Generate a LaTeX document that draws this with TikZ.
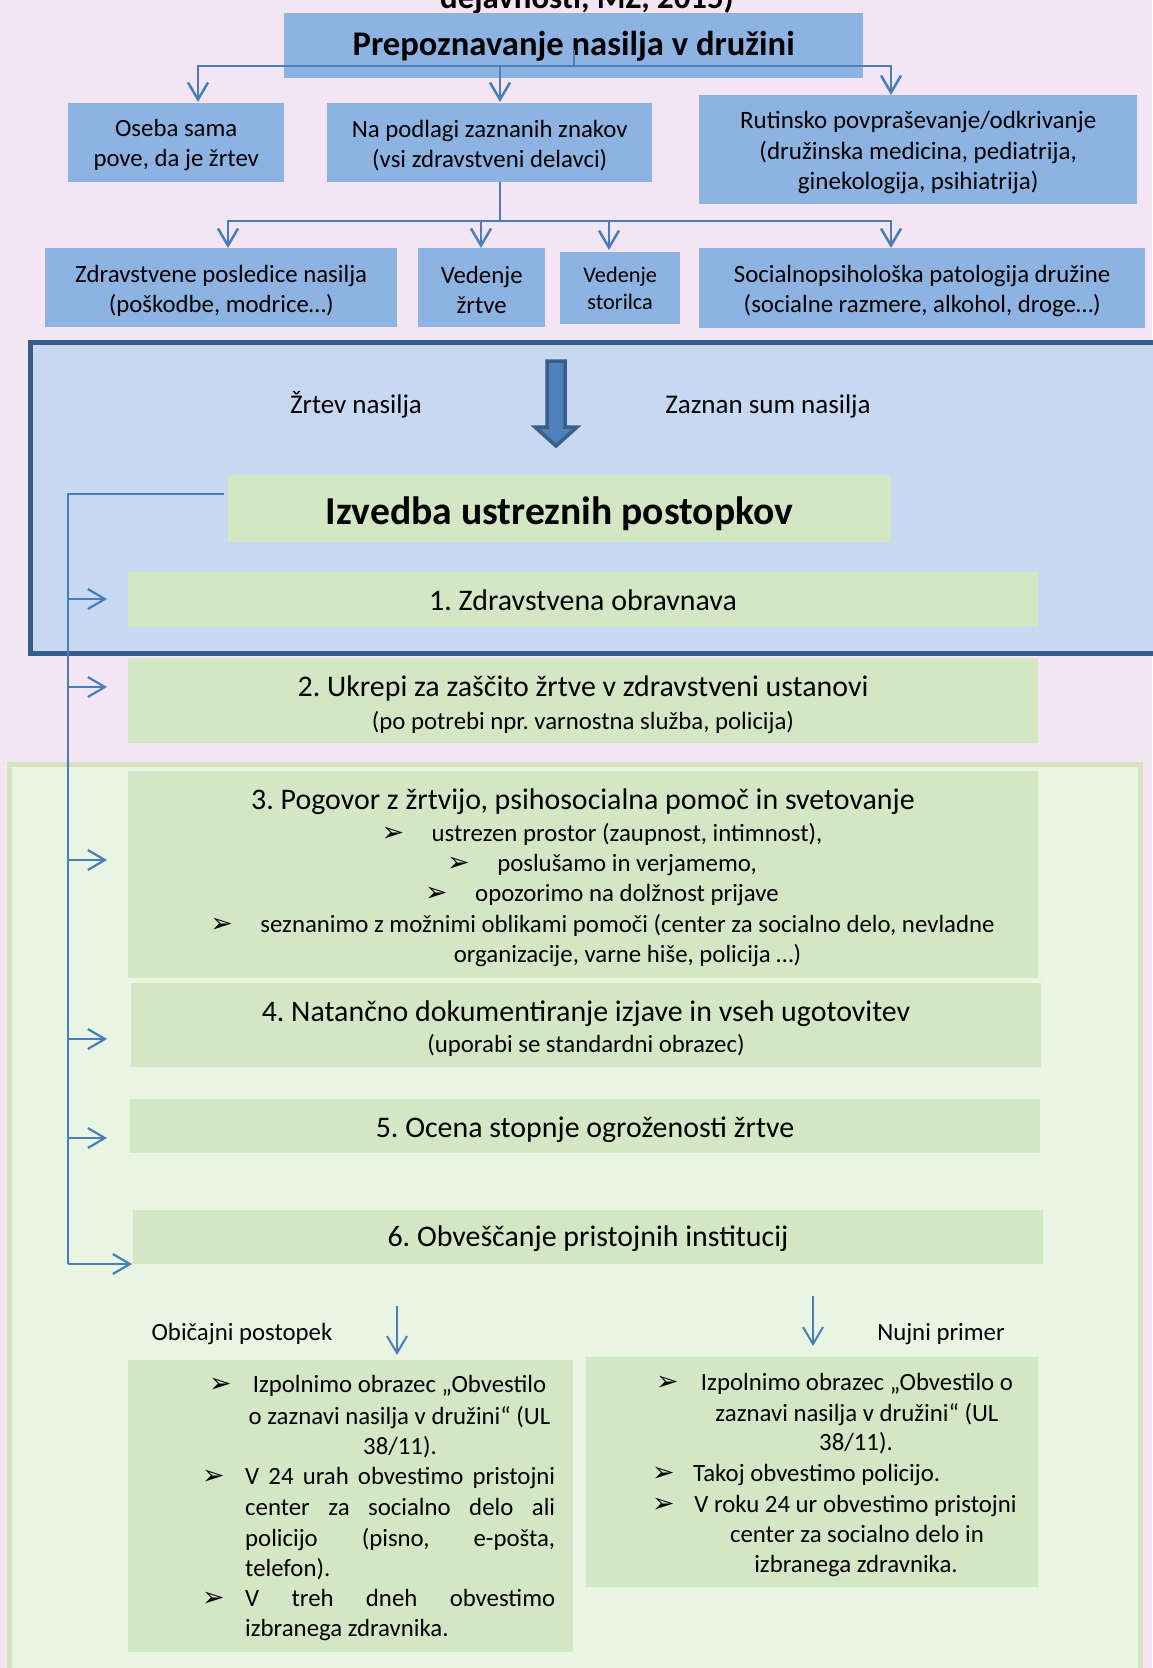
\documentclass[tikz,border=0pt]{standalone}
\usepackage{fontspec}
\setmainfont{Carlito}
\newfontfamily\dejavu{DejaVu Sans}
\usetikzlibrary{arrows.meta}
\definecolor{bgpink}{HTML}{F3E5F3}
\definecolor{boxblue}{HTML}{8DB3E2}
\definecolor{panelblue}{HTML}{C6D9F0}
\definecolor{darkblue}{HTML}{385D8A}
\definecolor{arrowblue}{HTML}{4A7EBB}
\definecolor{stepgreen}{HTML}{D3E7C5}
\definecolor{panelgreen}{HTML}{EAF4E2}
\definecolor{greenborder}{HTML}{D8E4BC}
\definecolor{bigarrow}{HTML}{4F81BD}
\newcommand\fsz[2]{\fontsize{#1pt}{#2pt}\selectfont}
\frenchspacing
\tikzset{
  bbox/.style={fill=boxblue, inner sep=0pt, anchor=north west},
  btxt/.style={inner sep=0pt, align=center, font=\fsz{24.8}{30}},
  gbox/.style={fill=stepgreen, inner sep=0pt, anchor=north west},
  txt/.style={inner sep=0pt, anchor=base, font=\fsz{24.8}{30}},
  ttl/.style={txt, font=\fsz{29.9}{35}},
  conn/.style={draw=arrowblue, line width=2.5pt},
  arr/.style={conn, -{Straight Barb[length=17pt,width=20pt]}},
  bul/.style={inner sep=0pt, anchor=base west, font={\dejavu\fsz{27}{27}}},
  bule/.style={bul, anchor=base east}
}
\begin{document}
\begin{tikzpicture}[x=1pt,y=-1pt]
\useasboundingbox (0,0) rectangle (1152,1668);
\fill[bgpink] (0,0) rectangle (1152,1668);
% panels
\draw[fill=panelblue, draw=darkblue, line width=5pt] (30.5,342.5) rectangle (1175,653.5);
\draw[fill=panelgreen, draw=greenborder, line width=5pt] (9.5,764.5) rectangle (1140,1700);
% cut-off heading
\node[inner sep=0pt, anchor=base, font=\bfseries\fsz{32.8}{38}] (head) at (587,8) {dejavnosti, MZ, 2015)};
% top blue boxes
\node[bbox, minimum width=579, minimum height=65] (title) at (284,13) {};
\node[btxt, font=\bfseries\fsz{34.6}{40}] (titlet) at ([yshift=-1pt]title.center) {Prepoznavanje nasilja v družini};
\node[bbox, minimum width=216, minimum height=79] (oseba) at (68,103) {};
\node[btxt] (osebat) at ([yshift=-2.5pt]oseba.center) {Oseba sama\\pove, da je žrtev};
\node[bbox, minimum width=325, minimum height=79] (podlagi) at (327,103) {};
\node[btxt] (podlagit) at ([yshift=-2.5pt]podlagi.center) {Na podlagi zaznanih znakov\\(vsi zdravstveni delavci)};
\node[bbox, minimum width=438, minimum height=109] (rutin) at (699,95) {};
\node[btxt, font=\fsz{25}{30.5}] (rutint) at ([yshift=-3pt]rutin.center) {Rutinsko povpraševanje/odkrivanje\\(družinska medicina, pediatrija,\\ginekologija, psihiatrija)};
\node[bbox, minimum width=352, minimum height=79] (posled) at (45,248) {};
\node[btxt] (posledt) at ([yshift=-3pt]posled.center) {Zdravstvene posledice nasilja\\(poškodbe, modrice…)};
\node[bbox, minimum width=127, minimum height=79] (zrtve) at (418,248) {};
\node[btxt] (zrtvet) at ([yshift=-2pt]zrtve.center) {Vedenje\\žrtve};
\node[bbox, minimum width=120, minimum height=72] (storil) at (560,252) {};
\node[btxt, font=\fsz{22.3}{27}] (storilt) at (storil.center) {Vedenje\\storilca};
\node[bbox, minimum width=446, minimum height=80] (socio) at (699,248) {};
\node[btxt] (sociot) at ([yshift=-3pt]socio.center) {Socialnopsihološka patologija družine\\(socialne razmere, alkohol, droge…)};
% big arrow and labels
\draw[fill=bigarrow, draw=darkblue, line width=3.5pt, line join=miter] (547,361) -- (565,361) -- (565,427) -- (577,427) -- (556,446) -- (535,427) -- (547,427) -- cycle;
\node[txt, font=\fsz{27}{32}] (zrtev) at (356,413) {Žrtev nasilja};
\node[txt, font=\fsz{27}{32}] (sum) at (768,413) {Zaznan sum nasilja};
% green step boxes
\node[gbox, minimum width=663, minimum height=67] (izv) at (228,475) {};
\node[txt, font=\bfseries\fsz{39.6}{45}] (izvt) at (559.5,524) {Izvedba ustreznih postopkov};
\node[gbox, minimum width=910, minimum height=55] (s1) at (128,572) {};
\node[ttl] (s1t) at (583,610) {1. Zdravstvena obravnava};
\node[gbox, minimum width=910, minimum height=85] (s2) at (128,658) {};
\node[ttl] (s2t) at (583,696) {2. Ukrepi za zaščito žrtve v zdravstveni ustanovi};
\node[txt] (s2s) at (583,729.5) {(po potrebi npr. varnostna služba, policija)};
\node[gbox, minimum width=910, minimum height=206.6] (s3) at (128,771) {};
\node[ttl] (s3t) at (583,809.3) {3. Pogovor z žrtvijo, psihosocialna pomoč in svetovanje};
\node[txt] (b1) at (627,841.2) {ustrezen prostor (zaupnost, intimnost),};
\node[txt] (b2) at (627,871.5) {poslušamo in verjamemo,};
\node[txt] (b3) at (627,901.4) {opozorimo na dolžnost prijave};
\node[txt] (b4) at (627.5,932.4) {seznanimo z možnimi oblikami pomoči (center za socialno delo, nevladne};
\node[txt] (b5) at (627.5,962.7) {organizacije, varne hiše, policija …)};
\node[bule] (b1m) at ([xshift=-27pt]b1.base west) {➢};
\node[bule] (b2m) at ([xshift=-27pt]b2.base west) {➢};
\node[bule] (b3m) at ([xshift=-27pt]b3.base west) {➢};
\node[bule] (b4m) at ([xshift=-27pt]b4.base west) {➢};
\node[gbox, minimum width=910, minimum height=84] (s4) at (131,983) {};
\node[ttl] (s4t) at (586,1021) {4. Natančno dokumentiranje izjave in vseh ugotovitev};
\node[txt] (s4s) at (586,1052.3) {(uporabi se standardni obrazec)};
\node[gbox, minimum width=910, minimum height=54] (s5) at (130,1099) {};
\node[ttl] (s5t) at (585,1137.4) {5. Ocena stopnje ogroženosti žrtve};
\node[gbox, minimum width=910, minimum height=54] (s6) at (133,1210) {};
\node[ttl] (s6t) at (588,1246.6) {6. Obveščanje pristojnih institucij};
% bottom
\node[txt] (obic) at (242,1340.5) {Običajni postopek};
\node[txt] (nujni) at (941,1340.5) {Nujni primer};
\node[gbox, minimum width=445, minimum height=292] (left) at (128,1360) {};
\node[gbox, minimum width=452, minimum height=230] (right) at (586,1357) {};
\node[txt] (l1) at (399.5,1392.5) {Izpolnimo obrazec „Obvestilo};
\node[txt] (l2) at (399.5,1424) {o zaznavi nasilja v družini“ (UL};
\node[txt] (l3) at (400,1454) {38/11).};
\node[bul] (l1m) at (209,1392.5) {➢};
\node[txt, anchor=base west] (l4) at (245,1484.5) {\makebox[310pt][s]{V 24 urah obvestimo pristojni}};
\node[txt, anchor=base west] (l5) at (245,1515.5) {\makebox[310pt][s]{center za socialno delo ali}};
\node[txt, anchor=base west] (l6) at (245,1546) {\makebox[310pt][s]{policijo (pisno, e-pošta,}};
\node[txt, anchor=base west] (l7) at (245,1576) {telefon).};
\node[bul] (l4m) at (202,1484.5) {➢};
\node[txt, anchor=base west] (l8) at (245,1606) {\makebox[310pt][s]{V treh dneh obvestimo}};
\node[txt, anchor=base west] (l9) at (245,1636) {izbranega zdravnika.};
\node[bul] (l8m) at (202,1606) {➢};
\node[txt] (r1) at (857,1390.5) {Izpolnimo obrazec „Obvestilo o};
\node[txt] (r2) at (857,1421.5) {zaznavi nasilja v družini“ (UL};
\node[txt] (r3) at (856,1450.5) {38/11).};
\node[bul] (r1m) at (656,1390.5) {➢};
\node[txt, anchor=base west] (r4) at (693,1481) {Takoj obvestimo policijo.};
\node[bul] (r4m) at (652,1481) {➢};
\node[txt] (r5) at (855.5,1512.5) {V roku 24 ur obvestimo pristojni};
\node[bul] (r5m) at (652,1512.5) {➢};
\node[txt] (r6) at (857,1542.5) {center za socialno delo in};
\node[txt] (r7) at (856,1572.5) {izbranega zdravnika.};
% connectors
\coordinate (stubA) at (574,50);
\coordinate (hubA) at (574,66);
\coordinate (aO) at (198,102);
\coordinate (aP) at (500,102);
\coordinate (aR) at (891,95);
\draw[conn] (stubA) -- (hubA);
\draw[arr] (hubA) -| (aO);
\draw[arr] (hubA) -| (aP);
\draw[arr] (hubA) -| (aR);
\coordinate (hubB) at (500,221);
\coordinate (bZ) at (228,248);
\coordinate (bV) at (481,248);
\coordinate (bS) at (609,250);
\coordinate (bP) at (891,248);
\draw[conn] (podlagi.south -| hubB) -- (hubB);
\draw[arr] (hubB) -| (bZ);
\draw[arr] (hubB) -| (bV);
\draw[arr] (hubB) -| (bS);
\draw[arr] (hubB) -| (bP);
\coordinate (brTop) at (224,494);
\coordinate (brBot) at (68,1264);
\coordinate (a6) at (132,1264);
\draw[conn, line width=2.2pt] (brTop) -| (brBot);
\draw[arr, line width=2.2pt] (brBot) -- (a6);
\foreach \yy/\nm in {599/k1, 687/k2, 860/k3, 1039/k4, 1138/k5}{
  \coordinate (\nm) at (68,\yy);
  \draw[arr, line width=2.2pt] (\nm) -- ++(39,0);
}
\coordinate (oTop) at (397,1306);
\coordinate (oEnd) at (397,1355);
\coordinate (nTop) at (813,1296);
\coordinate (nEnd) at (813,1346);
\draw[arr, line width=2pt] (oTop) -- (oEnd);
\draw[arr, line width=2pt] (nTop) -- (nEnd);
\end{tikzpicture}
\end{document}
